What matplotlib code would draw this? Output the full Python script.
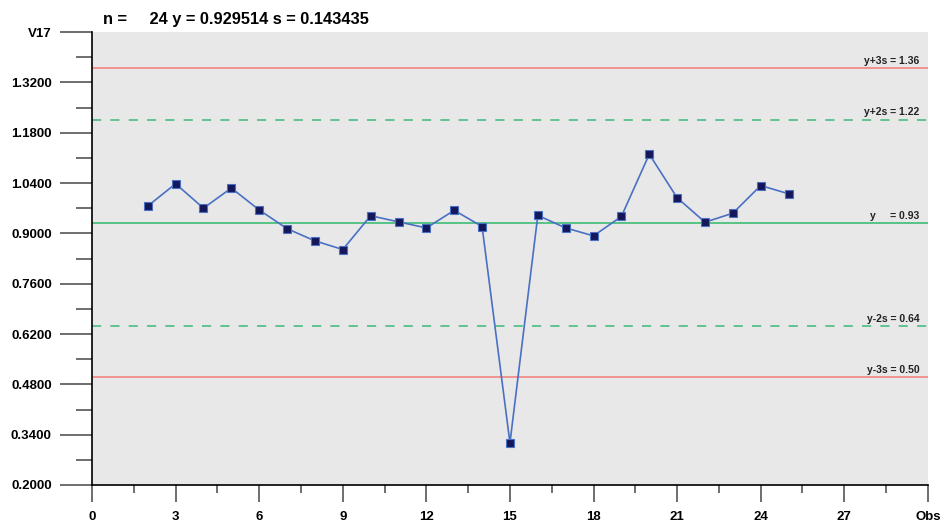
import numpy as np
import matplotlib.pyplot as plt
from matplotlib.ticker import FixedLocator, FuncFormatter

# observations (V17)
obs = list(range(2, 26))
v17 = [0.976, 1.038, 0.970, 1.026, 0.965, 0.913, 0.879, 0.855, 0.949, 0.932,
       0.915, 0.964, 0.919, 0.317, 0.950, 0.915, 0.893, 0.947, 1.120, 0.999,
       0.931, 0.956, 1.033, 1.010]

n_obs = 24
mean = 0.929514
sd = 0.143435

# control limits: label, multiple of s, colour, style
limits = [
    ('y+3s', 3, '#f27b76', '-'),
    ('y+2s', 2, '#3cb878', (0, (6, 6))),
    ('y    ', 0, '#2fb86a', '-'),
    ('y-2s', -2, '#3cb878', (0, (6, 6))),
    ('y-3s', -3, '#f27b76', '-'),
]

plt.rcParams['font.family'] = ['Liberation Sans', 'DejaVu Sans']

fig = plt.figure(figsize=(9.42, 5.25), dpi=100)
ax = fig.add_axes([0.0977, 0.0762, 0.8873, 0.8628])
ax.set_facecolor('#e8e8e8')

for lab, k, col, ls in limits:
    val = mean + k * sd
    ax.axhline(val, color=col, lw=1.1, ls=ls, zorder=1)
    ax.text(29.7, val + 0.006, f'{lab} = {val:.2f}', ha='right', va='bottom',
            fontsize=7.5, fontweight='bold', color='#222222', zorder=3)

ax.plot(obs, v17, color='#4a70c4', lw=1.2, zorder=2)
ax.plot(obs, v17, ls='none', marker='s', ms=6, mfc='#14185a', mec='#4a70c4',
        mew=0.8, zorder=4)

ax.set_xlim(0, 30)
ax.set_ylim(0.2, 1.46)

yticks = [0.20 + 0.14 * i for i in range(10)]
yminor = [0.27 + 0.14 * i for i in range(9)]
ax.xaxis.set_major_locator(FixedLocator(list(range(0, 31, 3))))
ax.xaxis.set_minor_locator(FixedLocator([1.5 + 3 * i for i in range(10)]))
ax.yaxis.set_major_locator(FixedLocator(yticks))
ax.yaxis.set_minor_locator(FixedLocator(yminor))

def xfmt(x, pos):
    if abs(x - 30) < 1e-6:
        return 'Obs'
    return '%d' % round(x)

def yfmt(y, pos):
    if abs(y - 1.46) < 1e-6:
        return 'V17'
    return '%.4f' % y

ax.xaxis.set_major_formatter(FuncFormatter(xfmt))
ax.yaxis.set_major_formatter(FuncFormatter(yfmt))

ax.tick_params(axis='y', which='major', length=23, width=1.2, color='#555555',
               pad=6, labelsize=9.5)
ax.tick_params(axis='y', which='minor', length=11.5, width=1.2, color='#555555')
ax.tick_params(axis='x', which='major', length=12, width=1.2, color='#555555',
               pad=7, labelsize=9.5)
ax.tick_params(axis='x', which='minor', length=6, width=1.2, color='#555555')
for t in ax.get_xticklabels() + ax.get_yticklabels():
    t.set_fontweight('bold')

ax.spines['top'].set_visible(False)
ax.spines['right'].set_visible(False)
ax.spines['left'].set_linewidth(1.2)
ax.spines['bottom'].set_linewidth(1.2)

fig.text(0.109, 0.963, f'n =     {n_obs} y = {mean:.6f} s = {sd:.6f}',
         fontsize=11.8, fontweight='bold', va='center', ha='left')

fig.savefig('out.png', dpi=100)
